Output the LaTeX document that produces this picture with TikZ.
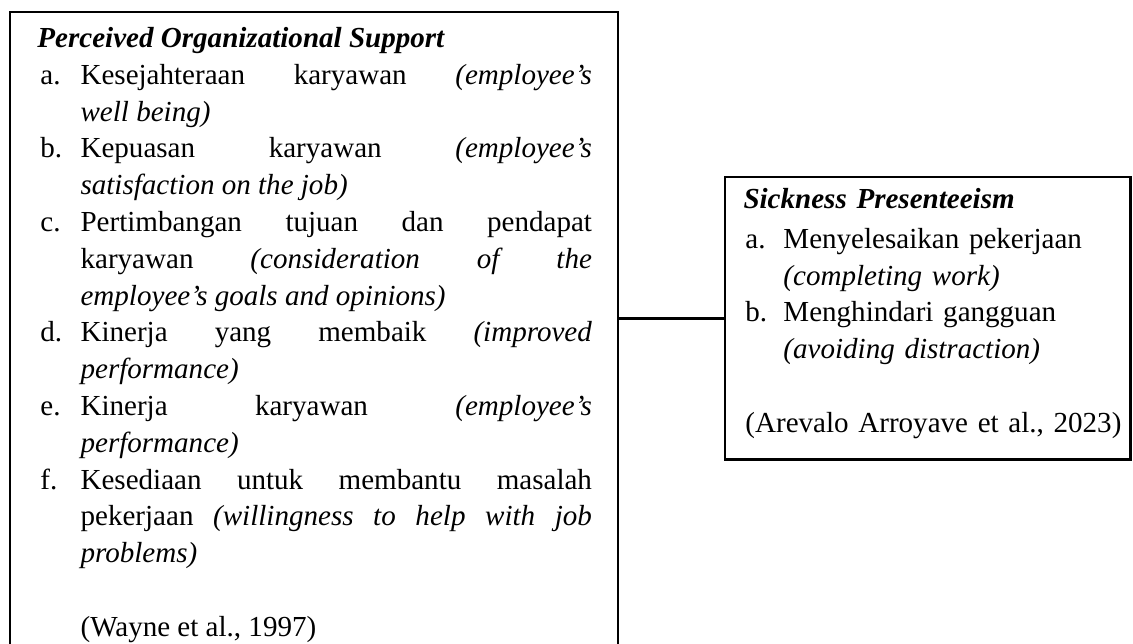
\documentclass[tikz,border=0pt]{standalone}
\usepackage{fontspec}
\setmainfont{Liberation Serif}
\newlength\itind
\newlength\labsh
\newcommand\lbitem[2]{\par\hangindent=\itind\hangafter=1\noindent\makebox[\itind][l]{\hspace{\labsh}#1}#2}
\tikzset{
  px/.style={x=0.413pt,y=-0.413pt},
  framebox/.style={draw=black,line width=1pt,minimum width=#1,inner sep=0pt,anchor=north west},
  txt/.style={inner sep=0pt,anchor=north west,
    font=\fontsize{12}{15.2}\selectfont},
  link/.style={draw=black,line width=1.3pt}
}
\begin{document}
\begin{tikzpicture}[px]
\useasboundingbox (0,0) rectangle (1133,644);
% boxes
\node[framebox=251.1pt,minimum height=285pt] (pos) at (9,11) {};
\node[framebox=167.3pt,minimum height=116.5pt] (sp) at (724,176) {};
% connector
\draw[link] (sp.west -| pos.east) -- (sp.west);
% left text
\node[txt,text width=229pt,align=justify] (postext) at (37,22.8) {%
\tolerance=10000\hbadness=10000\parindent=0pt
\setlength\itind{17.8pt}\setlength\labsh{1.2pt}%
\rule{0pt}{10pt}\textbf{\textit{Perceived Organizational Support}}
\lbitem{a.}{Kesejahteraan karyawan \textit{(employee’s}\linebreak \textit{well being)}}
\lbitem{b.}{Kepuasan karyawan \textit{(employee’s}\linebreak \textit{satisfaction on the job)}}
\lbitem{c.}{Pertimbangan tujuan dan pendapat\linebreak karyawan \textit{(consideration of the}\linebreak \textit{employee’s goals and opinions)}}
\lbitem{d.}{Kinerja yang membaik \textit{(improved}\linebreak \textit{performance)}}
\lbitem{e.}{Kinerja karyawan \textit{(employee’s}\linebreak \textit{performance)}}
\lbitem{f.}{Kesediaan untuk membantu masalah\linebreak pekerjaan \textit{(willingness to help with job}\linebreak \textit{problems)}}
\par\vspace{\baselineskip}
\noindent\hspace*{\itind}(Wayne et al., 1997)\par};
% right text
\node[txt,text width=160pt] (sptext) at (743,183.8) {%
\raggedright\parindent=0pt
\setlength\itind{16.5pt}\setlength\labsh{0.8pt}%
\rule{0pt}{10pt}\textbf{\textit{Sickness Presenteeism}}\par\vspace{1.2pt}
\lbitem{a.}{Menyelesaikan pekerjaan\newline\textit{(completing work)}}
\lbitem{b.}{Menghindari gangguan\newline\textit{(avoiding distraction)}}
\par\vspace{\baselineskip}
\noindent\hspace*{\labsh}(Arevalo Arroyave et al., 2023)\par};
\end{tikzpicture}
\end{document}
